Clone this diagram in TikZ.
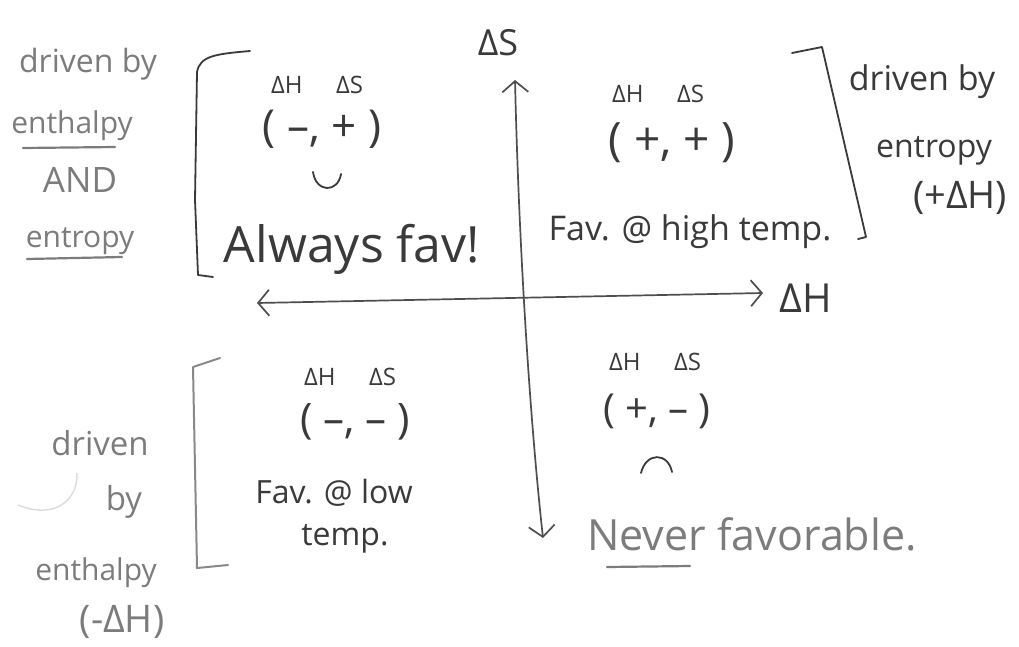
\documentclass[tikz,border=0pt]{standalone}
\usepackage{fontspec}
\setmainfont{Open Sans}
\usetikzlibrary{arrows.meta}
\definecolor{ink}{HTML}{3A3A3A}
\definecolor{pencil}{HTML}{7C7C7C}
\definecolor{faint}{HTML}{DDDDDD}
\begin{document}
\begin{tikzpicture}[x=1pt,y=-1pt,
  fs/.style={font=\fontsize{#1}{#1}\selectfont},
  txt/.style={inner sep=0pt,anchor=base,text=ink},
  note/.style={inner sep=0pt,anchor=base,text=pencil},
  axisline/.style={draw=ink!90,line width=1.7pt,line cap=round,
    >={Straight Barb[length=11pt,width=26pt,line width=1.7pt]}},
  bracket/.style={draw=ink,line width=1.8pt,line cap=round,line join=round},
  gbracket/.style={draw=pencil!90,line width=2pt,line cap=round,line join=round},
  uline/.style={draw=pencil,line width=2.2pt,line cap=round},
  face/.style={draw=ink,line width=1.8pt,line cap=round}]
\useasboundingbox (0,0) rectangle (1019,646);
\fill[white] (0,0) rectangle (1019,646);

% axes
\coordinate (stop) at (515,80);
\coordinate (sbot) at (543,538);
\coordinate (hleft) at (257,303);
\coordinate (hright) at (763,293);
\draw[axisline,<->] (stop) .. controls (519,250) and (530,420) .. (sbot);
\draw[axisline,<->] (hleft) -- (hright);
\node[txt,fs=36] (lS) at (498,55) {ΔS};
\node[txt,fs=40] (lH) at (806,312) {ΔH};

% top-left side note
\node[note,fs=32] (tl1) at (88,72) {driven by};
\node[note,fs=30] (tl2) at (72,133) {enthalpy};
\draw[uline] (23,148) -- (115,147);
\node[note,fs=35] (tl3) at (80,192) {AND};
\node[note,fs=30] (tl4) at (80,247) {entropy};
\draw[uline] (27,259) -- (122,257);

% top-left bracket and quadrant
\draw[bracket] (250,51) .. controls (215,54) and (200,56) .. (197,72) -- (195,200) -- (198,275) -- (213,277);
\node[txt,fs=24] (q1a) at (317,93) {ΔH\hspace{1.4em}ΔS};
\node[txt,fs=44] (q1b) at (322,141) {( –, + )};
\draw[face] (313,172) .. controls (316,193) and (338,193) .. (341,174);
\node[txt,fs=50] (q1c) at (352,262) {Always fav!};

% top-right quadrant and bracket
\node[txt,fs=24] (q2a) at (658,102) {ΔH\hspace{1.4em}ΔS};
\node[txt,fs=46] (q2b) at (672,155) {( +, + )};
\node[txt,fs=34] (q2c) at (690,240) {Fav. @ high temp.};
\draw[bracket] (792,53) -- (822,47) -- (866,237) -- (858,239);

% right side note
\node[txt,fs=34] (tr1) at (922,90) {driven by};
\node[txt,fs=32] (tr2) at (934,157) {entropy};
\node[txt,fs=38] (tr3) at (960,208) {(+ΔH)};

% bottom-left bracket and quadrant
\draw[gbracket] (220,358) -- (193,367) -- (197,568) -- (228,565);
\node[txt,fs=24] (q3a) at (350,385) {ΔH\hspace{1.4em}ΔS};
\node[txt,fs=42] (q3b) at (355,433) {( –, – )};
\node[txt,fs=32] (q3c) at (334,503) {Fav. @ low};
\node[txt,fs=32] (q3d) at (345,545) {temp.};

% bottom-left side note
\draw[faint,line width=1.5pt] (77,473) .. controls (78,500) and (55,520) .. (18,505);
\node[note,fs=33] (bl1) at (100,455) {driven};
\node[note,fs=33] (bl2) at (124,510) {by};
\node[note,fs=30] (bl3) at (96,580) {enthalpy};
\node[note,fs=38] (bl4) at (122,632) {(-ΔH)};

% bottom-right quadrant
\node[txt,fs=24] (q4a) at (655,370) {ΔH\hspace{1.4em}ΔS};
\node[txt,fs=40] (q4b) at (657,422) {( +, – )};
\draw[face] (641,473) .. controls (646,452) and (668,452) .. (672,472);
\node[note,fs=43] (q4c) at (752,550) {Never favorable.};
\draw[uline] (607,567) -- (690,566);
\end{tikzpicture}
\end{document}
